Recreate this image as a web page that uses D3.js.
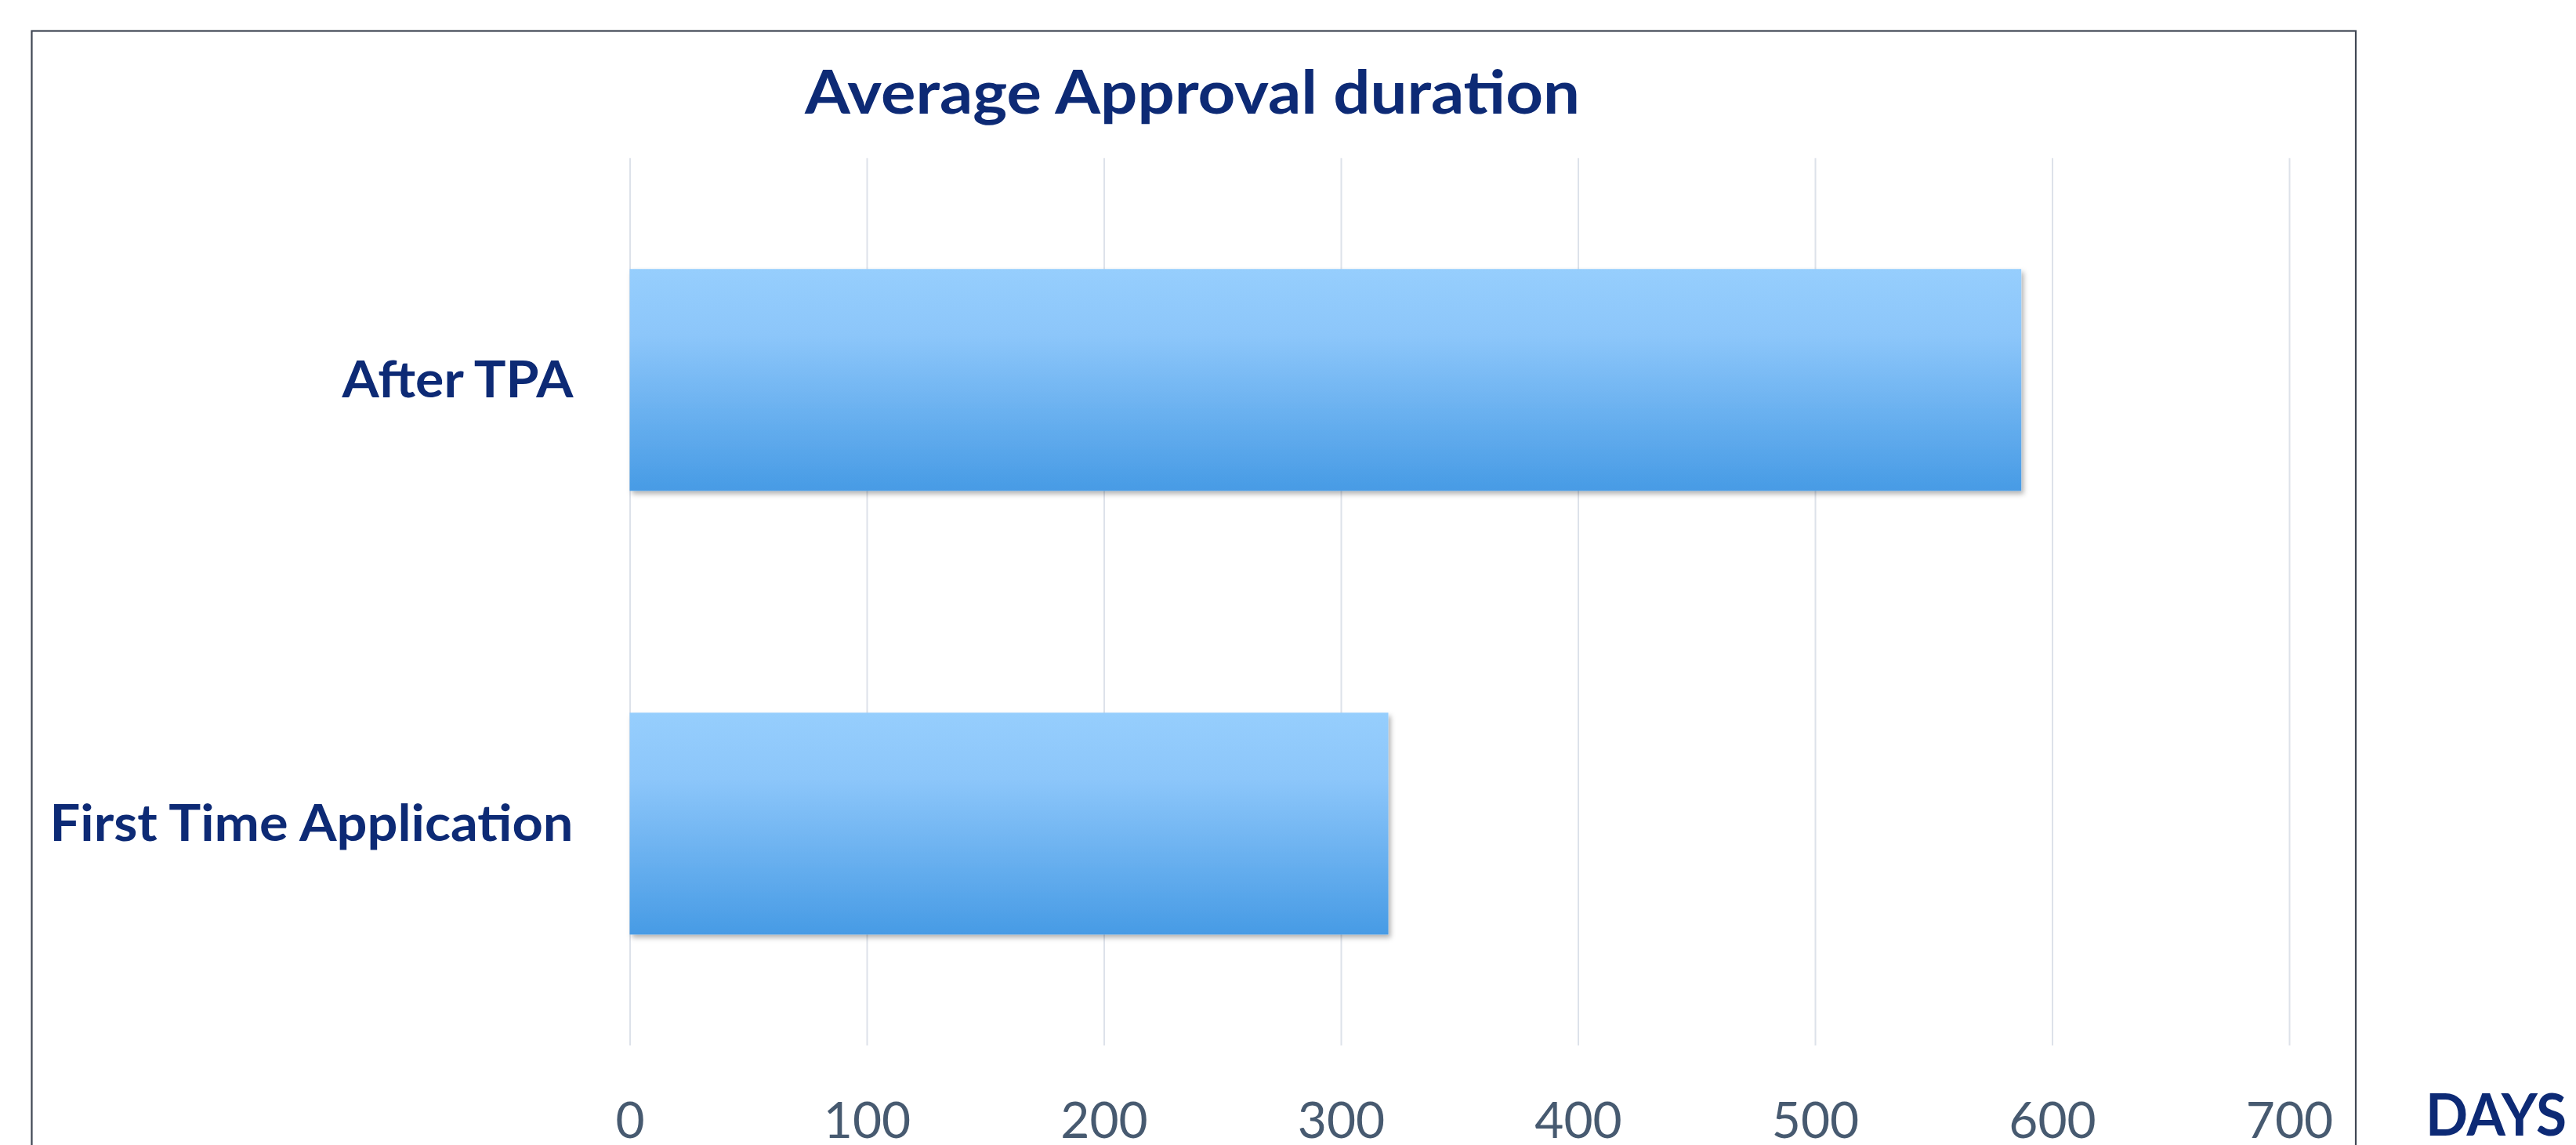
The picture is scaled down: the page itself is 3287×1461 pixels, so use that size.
<!DOCTYPE html>
<html>
<head>
<meta charset="utf-8">
<script src="https://cdn.jsdelivr.net/npm/d3@7"></script>
<style>
  html, body { margin: 0; padding: 0; background: #ffffff; }
  svg { display: block; }
</style>
</head>
<body>
<script>
// ---- data ----
const title = "Average Approval duration";
const categories = ["First Time Application", "After TPA"];
const values = [320, 587];
const tickValues = [0, 100, 200, 300, 400, 500, 600, 700];
const axisUnit = "DAYS";

// ---- layout ----
const W = 3287, H = 1461;
const x0 = 803.5, x700 = 2921;
const plotTop = 201.7, plotBottom = 1334;
const navy = "#0d2a75";

const svg = d3.select("body").append("svg")
  .attr("width", W).attr("height", H);

const defs = svg.append("defs");
const grad = defs.append("linearGradient")
  .attr("id", "barGrad").attr("x1", 0).attr("y1", 0).attr("x2", 0).attr("y2", 1);
grad.append("stop").attr("offset", "0%").attr("stop-color", "#96cefd");
grad.append("stop").attr("offset", "30%").attr("stop-color", "#8cc6fa");
grad.append("stop").attr("offset", "100%").attr("stop-color", "#479be5");

const shadow = defs.append("filter").attr("id", "shadow")
  .attr("x", "-5%").attr("y", "-10%").attr("width", "115%").attr("height", "130%");
shadow.append("feDropShadow")
  .attr("dx", 3).attr("dy", 4).attr("stdDeviation", 3)
  .attr("flood-color", "#000").attr("flood-opacity", 0.3);

// border (bottom extends past the image)
svg.append("rect")
  .attr("x", 40.5).attr("y", 39.5)
  .attr("width", 3006 - 40.5).attr("height", 1600)
  .attr("fill", "none").attr("stroke", "#404754").attr("stroke-width", 2.2);

const x = d3.scaleLinear().domain([0, 700]).range([x0, x700]);
const y = d3.scaleBand().domain(categories)
  .range([plotBottom, plotTop]).paddingInner(0.5).paddingOuter(0.25);

// x axis with gridlines
const xAxis = d3.axisBottom(x).tickValues(tickValues)
  .tickSizeInner(-(plotBottom - plotTop)).tickSizeOuter(0).tickPadding(0);
const gx = svg.append("g").attr("transform", `translate(0,${plotBottom})`).call(xAxis);
gx.select(".domain").remove();
gx.selectAll(".tick line").attr("stroke", "#dde2ea").attr("stroke-width", 2);
gx.selectAll(".tick text")
  .attr("y", 118).attr("dy", 0)
  .attr("fill", "#475a70")
  .attr("font-family", "Lato, 'Open Sans', sans-serif")
  .attr("font-size", 64);

// bars
svg.append("g").selectAll("rect").data(categories).join("rect")
  .attr("x", x(0))
  .attr("y", d => y(d))
  .attr("width", (d, i) => x(values[i]) - x(0))
  .attr("height", y.bandwidth())
  .attr("fill", "url(#barGrad)")
  .attr("filter", "url(#shadow)");

// y axis labels
const labelWidths = {"First Time Application": 668, "After TPA": 295};
const yAxis = d3.axisLeft(y).tickSize(0).tickPadding(72);
const gy = svg.append("g").attr("transform", `translate(${x0},0)`).call(yAxis);
gy.select(".domain").remove();
gy.selectAll(".tick text")
  .attr("dy", 22.5)
  .attr("fill", navy)
  .attr("font-family", "Lato, 'Open Sans', sans-serif")
  .attr("font-weight", 700)
  .attr("font-size", 65)
  .attr("textLength", d => labelWidths[d])
  .attr("lengthAdjust", "spacingAndGlyphs");

// title
svg.append("text")
  .attr("x", 1521.5).attr("y", 145)
  .attr("text-anchor", "middle")
  .attr("fill", navy)
  .attr("font-family", "Lato, 'Open Sans', sans-serif")
  .attr("font-weight", 700)
  .attr("font-size", 76)
  .attr("textLength", 989)
  .attr("lengthAdjust", "spacingAndGlyphs")
  .text(title);

// unit label
svg.append("text")
  .attr("x", 3095).attr("y", 1449)
  .attr("fill", navy)
  .attr("font-family", "Lato, 'Open Sans', sans-serif")
  .attr("font-weight", 700)
  .attr("font-size", 74)
  .attr("textLength", 180)
  .attr("lengthAdjust", "spacingAndGlyphs")
  .text(axisUnit);
</script>
</body>
</html>
